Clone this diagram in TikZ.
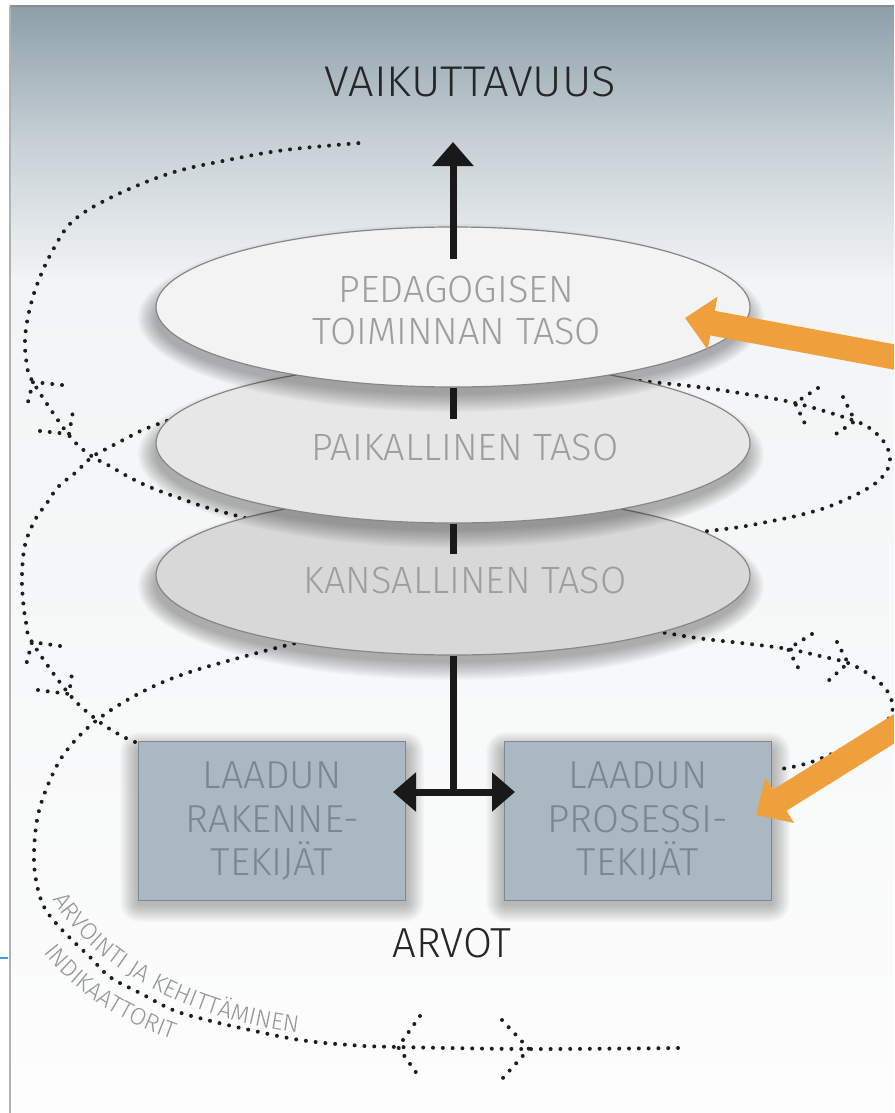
\documentclass[tikz,border=0pt]{standalone}
\usepackage{fontspec}
\newfontfamily\lf{Fira Sans}[UprightFont={* Light}]
\newfontfamily\lfw{Fira Sans}[UprightFont={* Light}, FakeStretch=1.05]
\usetikzlibrary{arrows.meta,shapes.geometric,decorations.text}
\definecolor{orng}{RGB}{239,160,60}
\definecolor{bga}{RGB}{141,159,170}
\definecolor{bgb}{RGB}{198,208,213}
\definecolor{bgc}{RGB}{242,244,245}
\definecolor{bgd}{RGB}{253,253,253}
\definecolor{elline}{RGB}{135,135,135}
\definecolor{eltext}{RGB}{158,158,158}
\definecolor{boxfill}{RGB}{170,184,193}
\definecolor{boxline}{RGB}{125,135,142}
\definecolor{boxtext}{RGB}{122,135,145}
\definecolor{dotc}{RGB}{30,30,30}
\definecolor{tickblue}{RGB}{60,160,224}
\definecolor{curvtext}{RGB}{150,150,150}
\newcommand\myellshadow[4]{%
  \foreach \k in {0,...,11}{%
    \fill[black, opacity=0.028] (#1-2,#2+11) ellipse [x radius={#3+16-1.6*\k pt}, y radius={#4+14-1.6*\k pt}];
  }}
\newcommand\myboxshadow[4]{%
  \foreach \k in {0,...,11}{%
    \fill[black, opacity=0.022, rounded corners={20-1.5*\k pt}] (#1-18+1.5*\k,#2-10+1.5*\k) rectangle (#3+18-1.5*\k,#4+22-1.5*\k);
  }}
\begin{document}
\begin{tikzpicture}[x=1pt,y=-1pt,
  lvl/.style={ellipse, draw=elline, line width=1.2pt, minimum width=594pt, minimum height=160pt,
    inner sep=0pt},
  lvltext/.style={anchor=base, inner sep=0pt, text=eltext, font=\lf\fontsize{38}{42}\selectfont},
  factor/.style={rectangle, draw=boxline, line width=1.5pt, fill=boxfill, minimum width=267pt,
    minimum height=159pt, inner sep=0pt, align=center, text=boxtext, font=\lf\fontsize{39}{43.5}\selectfont},
  blk/.style={line width=7pt, draw=black!90},
  dotline/.style={line width=4pt, line cap=round, dash pattern=on 0pt off 9.8pt, draw=dotc},
  orarrow/.style={draw=orng, line width=25pt, -{Triangle[length=28pt,width=52pt]}},
  title/.style={font=\lfw\fontsize{43}{43}\selectfont, text=black!85, inner sep=0pt, anchor=base}
]
\useasboundingbox (0,0) rectangle (894,1113);
\clip (0,0) rectangle (894,1113);
% background
\fill[white] (0,0) rectangle (894,1113);
\shade[top color=bga, bottom color=bgb] (10,6) rectangle (894,140.5);
\shade[top color=bgb, bottom color=bgc] (10,140) rectangle (894,280.5);
\shade[top color=bgc, bottom color=bgd] (10,280) rectangle (894,1113);
\draw[line width=2pt, draw=black!45] (10,6) -- (894,6);
\draw[line width=2pt, draw=black!30] (10,6) -- (10,1113);
\draw[line width=1.5pt, draw=tickblue] (0,958) -- (8,958);

% dotted spiral
\draw[dotline] plot[smooth, tension=0.6] coordinates {(678,1048) (530,1049) (398,1047) (350,1045) (300,1040) (250,1030) (207,1020) (173,1010) (140,993) (110,977) (90,957) (72,940) (55,922) (43,905) (36,880) (34,853) (38,815) (50,780) (67,750) (97,720) (140,693) (187,673) (257,653) (300,642)};
\draw[dotline] plot[smooth, tension=0.6] coordinates {(655,631) (697,638) (750,644) (788,649) (820,656) (848,663) (870,675) (885,688) (892,702) (890,717) (870,735) (845,748) (817,760) (797,766) (775,770)};
\draw[dotline] plot[smooth, tension=0.6] coordinates {(135,742) (120,735) (97,720) (69,694) (32,642) (26,622) (23,600) (22,575) (25,545) (35,520) (47,503) (58,487) (75,473) (92,457) (108,448) (127,438) (145,429) (175,418)};
\draw[dotline] plot[smooth, tension=0.6] coordinates {(640,381) (690,386) (733,392) (795,403) (855,421) (872,430) (884,442) (890,457) (886,472) (870,487) (833,505) (800,515) (767,522) (740,527) (700,532)};
\draw[dotline] plot[smooth, tension=0.6] coordinates {(245,518) (205,507) (185,500) (165,493) (145,485) (127,476) (108,465) (90,455) (68,434) (33,382) (27,365) (25,340) (29,312) (38,282) (54,248) (74,220) (114,196) (171,173) (228,160) (285,150) (360,143)};
% chevrons
\draw[dotline] (62,385) -- (33,382) -- (26,410);
\draw[dotline] (40,431) -- (69,434) -- (74,406);
\draw[dotline] (60,646) -- (32,642) -- (25,669);
\draw[dotline] (38,690) -- (69,694) -- (73,667);
\draw[dotline] (818,388) -- (795,403) -- (807,428);
\draw[dotline] (843,397) -- (855,421) -- (833,436);
\draw[dotline] (812,634) -- (788,649) -- (801,673);
\draw[dotline] (837,642) -- (848,663) -- (827,682);
\draw[dotline] (420,1016) -- (398,1047) -- (420,1078);
\draw[dotline] (502,1020) -- (529,1049) -- (502,1079);

% levels
\myellshadow{453}{575}{297}{80}
\node[lvl, fill={rgb,255:red,216;green,216;blue,216}] (kan) at (453,575) {};
\myellshadow{453}{443}{297}{80}
\node[lvl, fill={rgb,255:red,231;green,231;blue,231}] (pai) at (453,443) {};
\myellshadow{453}{307}{297}{80}
\node[lvl, fill={rgb,255:red,243;green,243;blue,243}] (ped) at (453,307) {};
\node[lvltext] (pedt1) at (456,302) {PEDAGOGISEN};
\node[lvltext] (pedt2) at (457,344) {TOIMINNAN TASO};
\node[lvltext] (pait) at (465,460) {PAIKALLINEN TASO};
\node[lvltext] (kant) at (465,593) {KANSALLINEN TASO};

% factor boxes
\myboxshadow{138}{742}{406}{900}
\myboxshadow{504}{742}{772}{900}
\node[factor] (lbox) at (272,821) {LAADUN\\RAKENNE-\\TEKIJÄT};
\node[factor] (rbox) at (638,821) {LAADUN\\PROSESSI-\\TEKIJÄT};

% texts
\node[title] (vaik) at (470,97) {VAIKUTTAVUUS};
\node[title, font=\lf\fontsize{42}{42}\selectfont] (arvot) at (452,957) {ARVOT};

% black connectors
\coordinate (atip) at (453,142);
\coordinate (junc) at (453,792);
\coordinate (ltip) at (393,792);
\coordinate (rtip) at (515,792);
\draw[blk, -{Triangle[length=24pt,width=40pt]}] ([yshift=-33pt]ped.north) -- (atip);
\draw[blk] (ped.south) -- ++(0,31);
\draw[blk] (pai.south) -- ++(0,30);
\draw[blk] (kan.south) -- (junc);
\draw[blk, {Triangle[length=23pt,width=38pt]}-{Triangle[length=23pt,width=38pt]}] (ltip) -- (rtip);

% curved labels
\path[decorate, decoration={text along path, text align=center,
  text={|\lf\fontsize{24}{24}\selectfont\color{curvtext}|ARVOINTI JA KEHITTÄMINEN}}]
  (38,868) .. controls (70,960) and (190,1028) .. (332,1036);
\path[decorate, decoration={text along path, text align=center,
  text={|\lf\fontsize{24}{24}\selectfont\color{curvtext}|INDIKAATTORIT}}]
  (20,912) .. controls (45,975) and (120,1032) .. (218,1052);

% orange arrows
\coordinate (o1s) at (905,359);
\coordinate (o1e) at (685,318);
\coordinate (o2s) at (905,722);
\coordinate (o2e) at (756,815);
\draw[orarrow] (o1s) -- (o1e);
\draw[orarrow] (o2s) -- (o2e);
\end{tikzpicture}
\end{document}
